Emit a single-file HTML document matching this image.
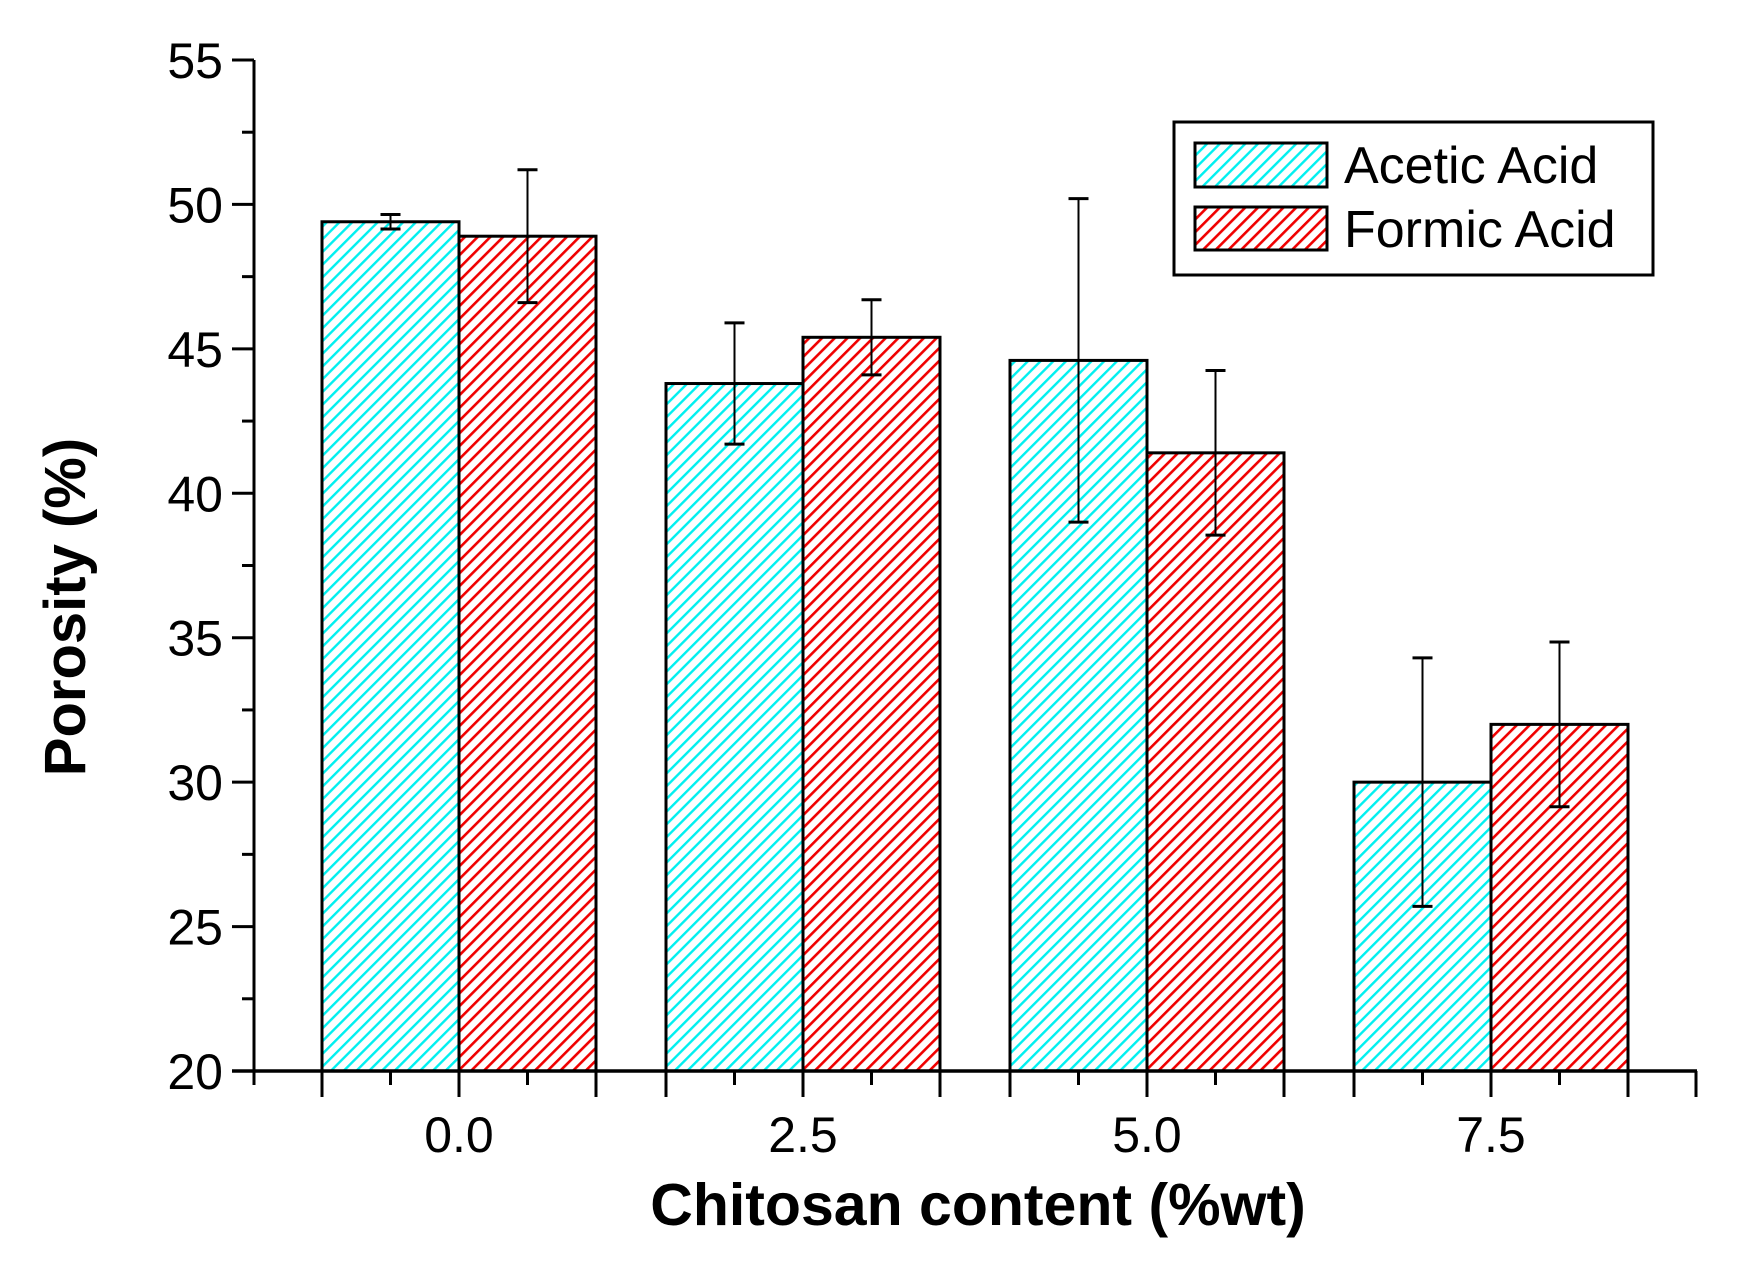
<!DOCTYPE html>
<html><head><meta charset="utf-8"><style>
body{margin:0;background:#fff}
svg{display:block}
text{font-family:"Liberation Sans",Arial,sans-serif;fill:#000}
</style></head><body>
<svg id="chart" width="1738" height="1264" viewBox="0 0 1738 1264" xmlns="http://www.w3.org/2000/svg">
<defs>
<pattern id="hc" patternUnits="userSpaceOnUse" width="9" height="9" patternTransform="rotate(45)">
<rect width="9" height="9" fill="#fff"/><rect x="0" y="0" width="2.4" height="9" fill="#00f0f0"/></pattern>
<pattern id="hr" patternUnits="userSpaceOnUse" width="9" height="9" patternTransform="rotate(45)">
<rect width="9" height="9" fill="#fff"/><rect x="0" y="0" width="2.6" height="9" fill="#f00000"/></pattern>
</defs>
<g id="plot"></g>
<g>
<rect x="1174" y="122" width="479" height="153" fill="#fff" stroke="#000" stroke-width="3"/>
<rect x="1195" y="143" width="132" height="44" fill="url(#hc)" stroke="#000" stroke-width="3"/>
<text x="1344" y="183" font-size="52">Acetic Acid</text>
<rect x="1195" y="207" width="132" height="43" fill="url(#hr)" stroke="#000" stroke-width="3"/>
<text x="1344" y="247" font-size="52">Formic Acid</text>
</g>
<text x="0" y="0" font-size="58" font-weight="bold" text-anchor="middle" transform="translate(85,607) rotate(-90)">Porosity (%)</text>
<text x="978" y="1225" font-size="59" font-weight="bold" text-anchor="middle">Chitosan content (%wt)</text>
</svg>
<script>
const categories=["0.0","2.5","5.0","7.5"];
const acetic=[49.4,43.8,44.6,30.0];
const aceticErr=[0.25,2.1,5.6,4.3];
const formic=[48.9,45.4,41.4,32.0];
const formicErr=[2.3,1.3,2.85,2.85];
const yTicks=[20,25,30,35,40,45,50,55];

const NS="http://www.w3.org/2000/svg";
const g=document.getElementById('plot');
const yMin=20,yMax=55,yBot=1071,yTop=60;
function y(v){return yBot-(v-yMin)/(yMax-yMin)*(yBot-yTop);}
const x0=459,step=344,bw=137;
function xc(i){return x0+i*step;}
function mk(tag,attrs){const e=document.createElementNS(NS,tag);for(const k in attrs)e.setAttribute(k,attrs[k]);g.appendChild(e);return e;}

function bar(xl,v,fill,name){
  const r=mk('rect',{x:xl,y:y(v),width:bw,height:yBot-y(v),fill:fill,stroke:'#000','stroke-width':3});
  
  
}
function err(xm,v,e,name){
  const gg=document.createElementNS(NS,'g');
  
  
  g.appendChild(gg);
  const l=(a)=>{const e2=document.createElementNS(NS,'line');for(const k in a)e2.setAttribute(k,a[k]);e2.setAttribute('stroke','#000');gg.appendChild(e2);};
  l({x1:xm,x2:xm,y1:y(v+e),y2:y(v-e),'stroke-width':2});
  l({x1:xm-10,x2:xm+10,y1:y(v+e),y2:y(v+e),'stroke-width':3});
  l({x1:xm-10,x2:xm+10,y1:y(v-e),y2:y(v-e),'stroke-width':3});
}
categories.forEach((c,i)=>{
  const cx=xc(i);
  bar(cx-bw,acetic[i],'url(#hc)','bar-acetic-'+i);
  bar(cx,formic[i],'url(#hr)','bar-formic-'+i);
  err(cx-bw/2,acetic[i],aceticErr[i],'error-acetic-'+i);
  err(cx+bw/2,formic[i],formicErr[i],'error-formic-'+i);
  const t=mk('text',{x:cx,y:1152,'font-size':50,'text-anchor':'middle'});
  t.textContent=c;
  
  
  [cx-bw,cx,cx+bw].forEach(tx=>mk('line',{x1:tx,x2:tx,y1:yBot,y2:yBot+26,stroke:'#000','stroke-width':3}));
  [cx-bw/2,cx+bw/2].forEach(tx=>mk('line',{x1:tx,x2:tx,y1:yBot,y2:yBot+14,stroke:'#000','stroke-width':3}));
});
mk('line',{x1:254,x2:254,y1:yBot,y2:yBot+14,stroke:'#000','stroke-width':3});
mk('line',{x1:1696,x2:1696,y1:yBot,y2:yBot+26,stroke:'#000','stroke-width':3});
const ya=mk('line',{x1:254,x2:254,y1:yTop,y2:yBot+1.5,stroke:'#000','stroke-width':3});


const xa=mk('line',{x1:232,x2:1697,y1:yBot,y2:yBot,stroke:'#000','stroke-width':3.5});


yTicks.forEach((v,i)=>{
  mk('line',{x1:232,x2:254,y1:y(v),y2:y(v),stroke:'#000','stroke-width':3});
  if(i<yTicks.length-1) mk('line',{x1:242,x2:254,y1:y(v+2.5),y2:y(v+2.5),stroke:'#000','stroke-width':3});
  const t=mk('text',{x:223,y:y(v)+18,'font-size':50,'text-anchor':'end'});
  t.textContent=v;
  
  
});
</script>
</body></html>
